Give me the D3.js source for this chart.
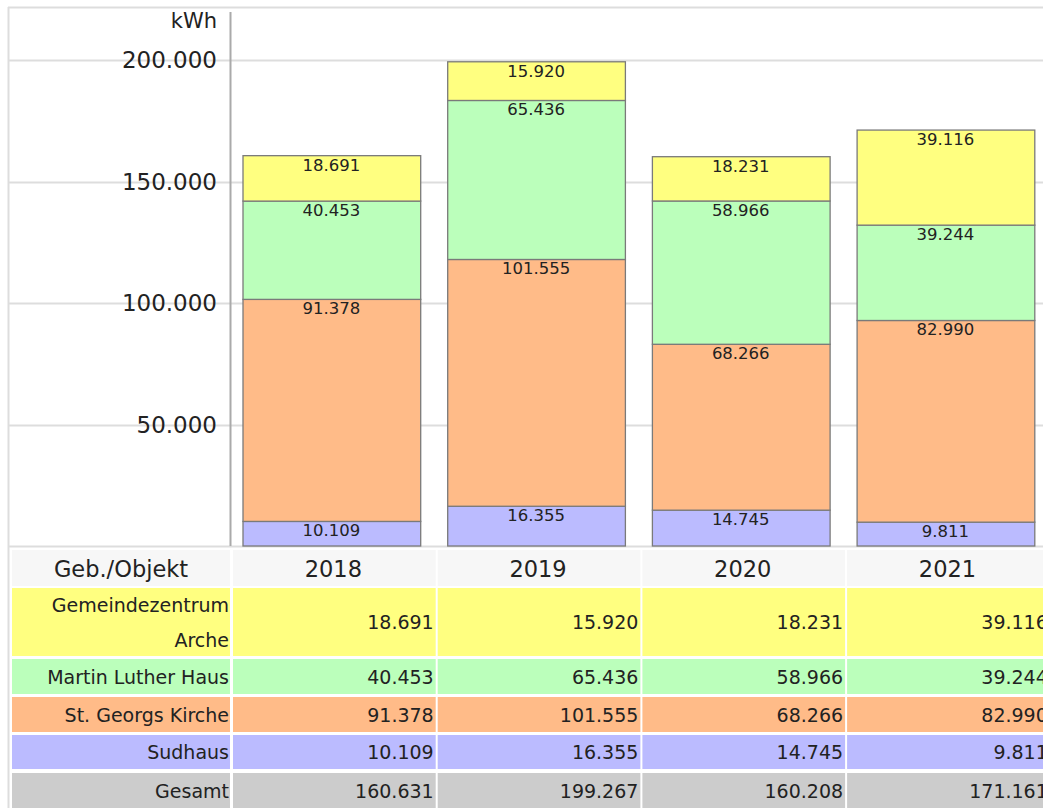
<!DOCTYPE html>
<html>
<head>
<meta charset="utf-8">
<script src="https://cdn.jsdelivr.net/npm/d3@7"></script>
<style>
  body { margin: 0; background: #fff; }
  text { font-family: "DejaVu Sans", Verdana, sans-serif; fill: #222; }
</style>
</head>
<body>
<script>
var years = ["2018", "2019", "2020", "2021"];
var objects = ["Gemeindezentrum Arche", "Martin Luther Haus", "St. Georgs Kirche", "Sudhaus"];
var arche = [18691, 15920, 18231, 39116];
var luther = [40453, 65436, 58966, 39244];
var georg = [91378, 101555, 68266, 82990];
var sudhaus = [10109, 16355, 14745, 9811];
var gesamt = [160631, 199267, 160208, 171161];
var yTicks = [50000, 100000, 150000, 200000];
var colors = ["#ffff80", "#bbffbb", "#ffbb88", "#bbbbff"];

var w = 1043, h = 808;
var de = d3.formatLocale({decimal: ",", thousands: ".", grouping: [3], currency: ["", " €"]});
var fmt = de.format(",d");

var svg = d3.select("body")
            .append("svg")
            .attr("width", w)
            .attr("height", h);

var x = d3.scaleBand().domain(years).range([230, 230 + 4 * 204.7]);
var y = d3.scaleLinear().domain([0, 200000]).range([546, 60]);

// frame
svg.append("line").attr("x1", 8).attr("x2", w).attr("y1", 7.5).attr("y2", 7.5)
   .attr("stroke", "#ddd").attr("stroke-width", 2);
svg.append("line").attr("x1", 8.5).attr("x2", 8.5).attr("y1", 7).attr("y2", h)
   .attr("stroke", "#ddd").attr("stroke-width", 2);

// gridlines
svg.selectAll("line.grid")
   .data([0].concat(yTicks))
   .enter()
   .append("line")
   .attr("class", "grid")
   .attr("x1", 9)
   .attr("x2", w)
   .attr("y1", function(d) { return Math.round(y(d)) + 0.5; })
   .attr("y2", function(d) { return Math.round(y(d)) + 0.5; })
   .attr("stroke", "#ddd")
   .attr("stroke-width", 2);

// y axis line
svg.append("line").attr("x1", 230.5).attr("x2", 230.5).attr("y1", 12).attr("y2", 546)
   .attr("stroke", "#aaa").attr("stroke-width", 2);

svg.selectAll("text.tick")
   .data(yTicks)
   .enter()
   .append("text")
   .attr("class", "tick")
   .text(function(d) { return fmt(d); })
   .attr("x", 217)
   .attr("y", function(d) { return y(d) + 8; })
   .attr("text-anchor", "end")
   .attr("font-size", "23px");

svg.append("text").text("kWh")
   .attr("x", 217).attr("y", 28)
   .attr("text-anchor", "end")
   .attr("font-size", "21px");

// stacked bars
var rows = years.map(function(yr, i) {
  return {year: yr, 0: sudhaus[i], 1: georg[i], 2: luther[i], 3: arche[i]};
});
var stack = d3.stack().keys([0, 1, 2, 3])(rows);
var stackColors = [colors[3], colors[2], colors[1], colors[0]];

var barPad = 13;
var layers = svg.selectAll("g.layer")
   .data(stack)
   .enter()
   .append("g")
   .attr("class", "layer")
   .attr("fill", function(d, i) { return stackColors[i]; });

layers.selectAll("rect")
   .data(function(d) { return d; })
   .enter()
   .append("rect")
   .attr("x", function(d) { return x(d.data.year) + barPad; })
   .attr("y", function(d) { return y(d[1]); })
   .attr("width", x.bandwidth() - 2 * barPad - 1)
   .attr("height", function(d) { return y(d[0]) - y(d[1]); })
   .attr("stroke", "#7a7a7a")
   .attr("stroke-width", 1.3);

layers.selectAll("text")
   .data(function(d) { return d; })
   .enter()
   .append("text")
   .text(function(d) { return fmt(d[1] - d[0]); })
   .attr("x", function(d) { return x(d.data.year) + x.bandwidth() / 2 - 1; })
   .attr("y", function(d) { return y(d[1]) + 15; })
   .attr("text-anchor", "middle")
   .attr("font-size", "16.5px")
   .attr("fill", "#1e1e2a");

// table
var tableRows = [
  {label: ["Gemeindezentrum", "Arche"], vals: arche, color: colors[0], top: 588, bottom: 656},
  {label: ["Martin Luther Haus"], vals: luther, color: colors[1], top: 659, bottom: 694},
  {label: ["St. Georgs Kirche"], vals: georg, color: colors[2], top: 697, bottom: 732},
  {label: ["Sudhaus"], vals: sudhaus, color: colors[3], top: 735, bottom: 769},
  {label: ["Gesamt"], vals: gesamt, color: "#cccccc", top: 773, bottom: 808}
];

// header
svg.append("rect").attr("x", 12).attr("y", 550).attr("width", 218).attr("height", 36).attr("fill", "#f7f7f7");
svg.append("text").text("Geb./Objekt").attr("x", 121).attr("y", 577)
   .attr("text-anchor", "middle").attr("font-size", "22.5px");
svg.selectAll("rect.head")
   .data(years)
   .enter()
   .append("rect")
   .attr("class", "head")
   .attr("x", function(d) { return x(d) + 3; })
   .attr("y", 550)
   .attr("width", x.bandwidth() - 2)
   .attr("height", 36)
   .attr("fill", "#f7f7f7");
svg.selectAll("text.head")
   .data(years)
   .enter()
   .append("text")
   .attr("class", "head")
   .text(function(d) { return d; })
   .attr("x", function(d) { return x(d) + x.bandwidth() / 2 + 1; })
   .attr("y", 577)
   .attr("text-anchor", "middle")
   .attr("font-size", "22.5px");

var tr = svg.selectAll("g.row")
   .data(tableRows)
   .enter()
   .append("g")
   .attr("class", "row");

tr.append("rect")
   .attr("x", 12)
   .attr("y", function(d) { return d.top; })
   .attr("width", 218)
   .attr("height", function(d) { return d.bottom - d.top; })
   .attr("fill", function(d) { return d.color; });

tr.each(function(d) {
  var g = d3.select(this);
  var mid = (d.top + d.bottom) / 2;
  g.selectAll("text.lbl")
   .data(d.label)
   .enter()
   .append("text")
   .attr("class", "lbl")
   .text(function(t) { return t; })
   .attr("x", 229)
   .attr("y", function(t, i) { return mid + 7 + (i - (d.label.length - 1) / 2) * 35; })
   .attr("text-anchor", "end")
   .attr("font-size", "19px");

  g.selectAll("rect.cell")
   .data(d.vals)
   .enter()
   .append("rect")
   .attr("class", "cell")
   .attr("x", function(v, i) { return x(years[i]) + 3; })
   .attr("y", d.top)
   .attr("width", x.bandwidth() - 2)
   .attr("height", d.bottom - d.top)
   .attr("fill", d.color);

  g.selectAll("text.val")
   .data(d.vals)
   .enter()
   .append("text")
   .attr("class", "val")
   .text(function(v) { return fmt(v); })
   .attr("x", function(v, i) { return x(years[i]) + x.bandwidth() - 1; })
   .attr("y", mid + 7)
   .attr("text-anchor", "end")
   .attr("font-size", "19px");
});
</script>
</body>
</html>
